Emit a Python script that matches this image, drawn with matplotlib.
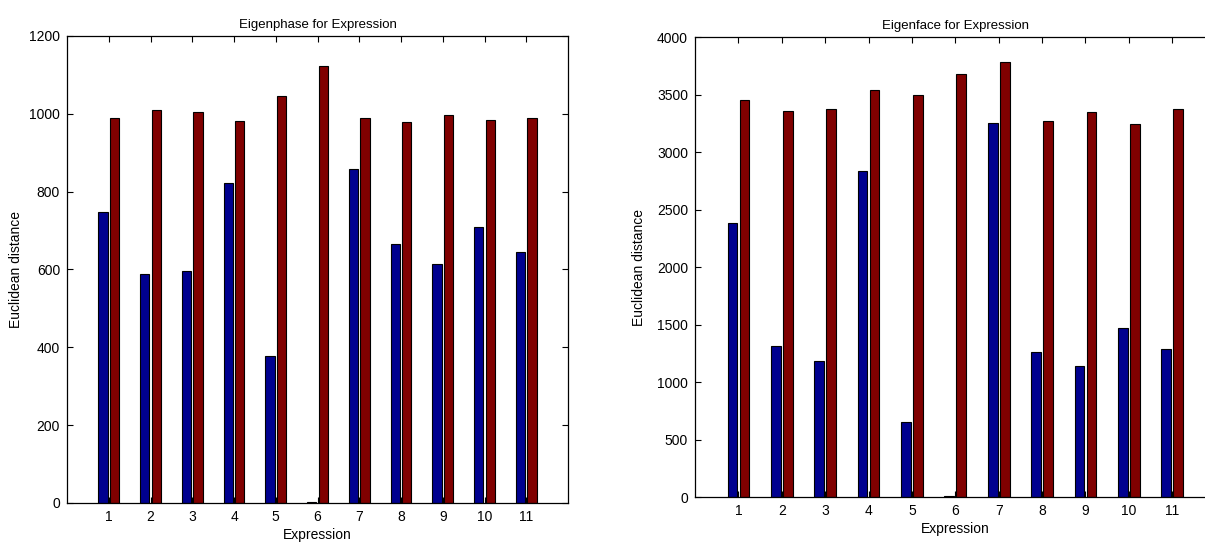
import matplotlib
matplotlib.use("Agg")
import matplotlib.pyplot as plt
import numpy as np

plt.rcParams["font.family"] = ["Liberation Sans", "DejaVu Sans"]
plt.rcParams["font.size"] = 9.5

expressions = list(range(1, 12))

# Eigenphase distances
phase_blue = [748, 588, 595, 822, 378, 3, 858, 665, 615, 708, 645]
phase_red = [990, 1010, 1005, 982, 1045, 1122, 990, 980, 998, 985, 988]

# Eigenface distances
face_blue = [2380, 1315, 1180, 2840, 650, 10, 3250, 1260, 1140, 1470, 1285]
face_red = [3450, 3360, 3375, 3540, 3500, 3680, 3780, 3270, 3350, 3245, 3375]

BLUE = "#00008f"
RED = "#800000"
W = 0.225
OFF = 0.138


def draw(ax, blue, red, title, yticks, ypad):
    x = np.array(expressions)
    ax.bar(x - OFF, blue, W, color=BLUE, edgecolor="black", linewidth=0.8)
    ax.bar(x + OFF, red, W, color=RED, edgecolor="black", linewidth=0.8)
    ax.set_xlim(0, 12)
    ax.set_ylim(yticks[0], yticks[-1])
    ax.set_xticks(x)
    ax.set_yticks(yticks)
    ax.tick_params(direction="in", top=True, right=True, length=4,
                   width=0.8, labelsize=10, pad=5)
    for s in ax.spines.values():
        s.set_linewidth(0.9)
    ax.set_title(title, fontsize=9.5, pad=6)
    ax.set_xlabel("Expression", fontsize=10, labelpad=3)
    ax.set_ylabel("Euclidean distance", fontsize=10, labelpad=ypad)


fig = plt.figure(figsize=(12.05, 5.52), dpi=100)
ax1 = fig.add_axes([0.0556, 0.0888, 0.4158, 0.846])
# right panel runs slightly past the canvas edge
ax2 = fig.add_axes([0.5768, 0.0996, 0.432, 0.833])
draw(ax1, phase_blue, phase_red, "Eigenphase for Expression",
     list(range(0, 1201, 200)), 4)
draw(ax2, face_blue, face_red, "Eigenface for Expression",
     list(range(0, 4001, 500)), 8)
fig.savefig("out.png", dpi=100)
